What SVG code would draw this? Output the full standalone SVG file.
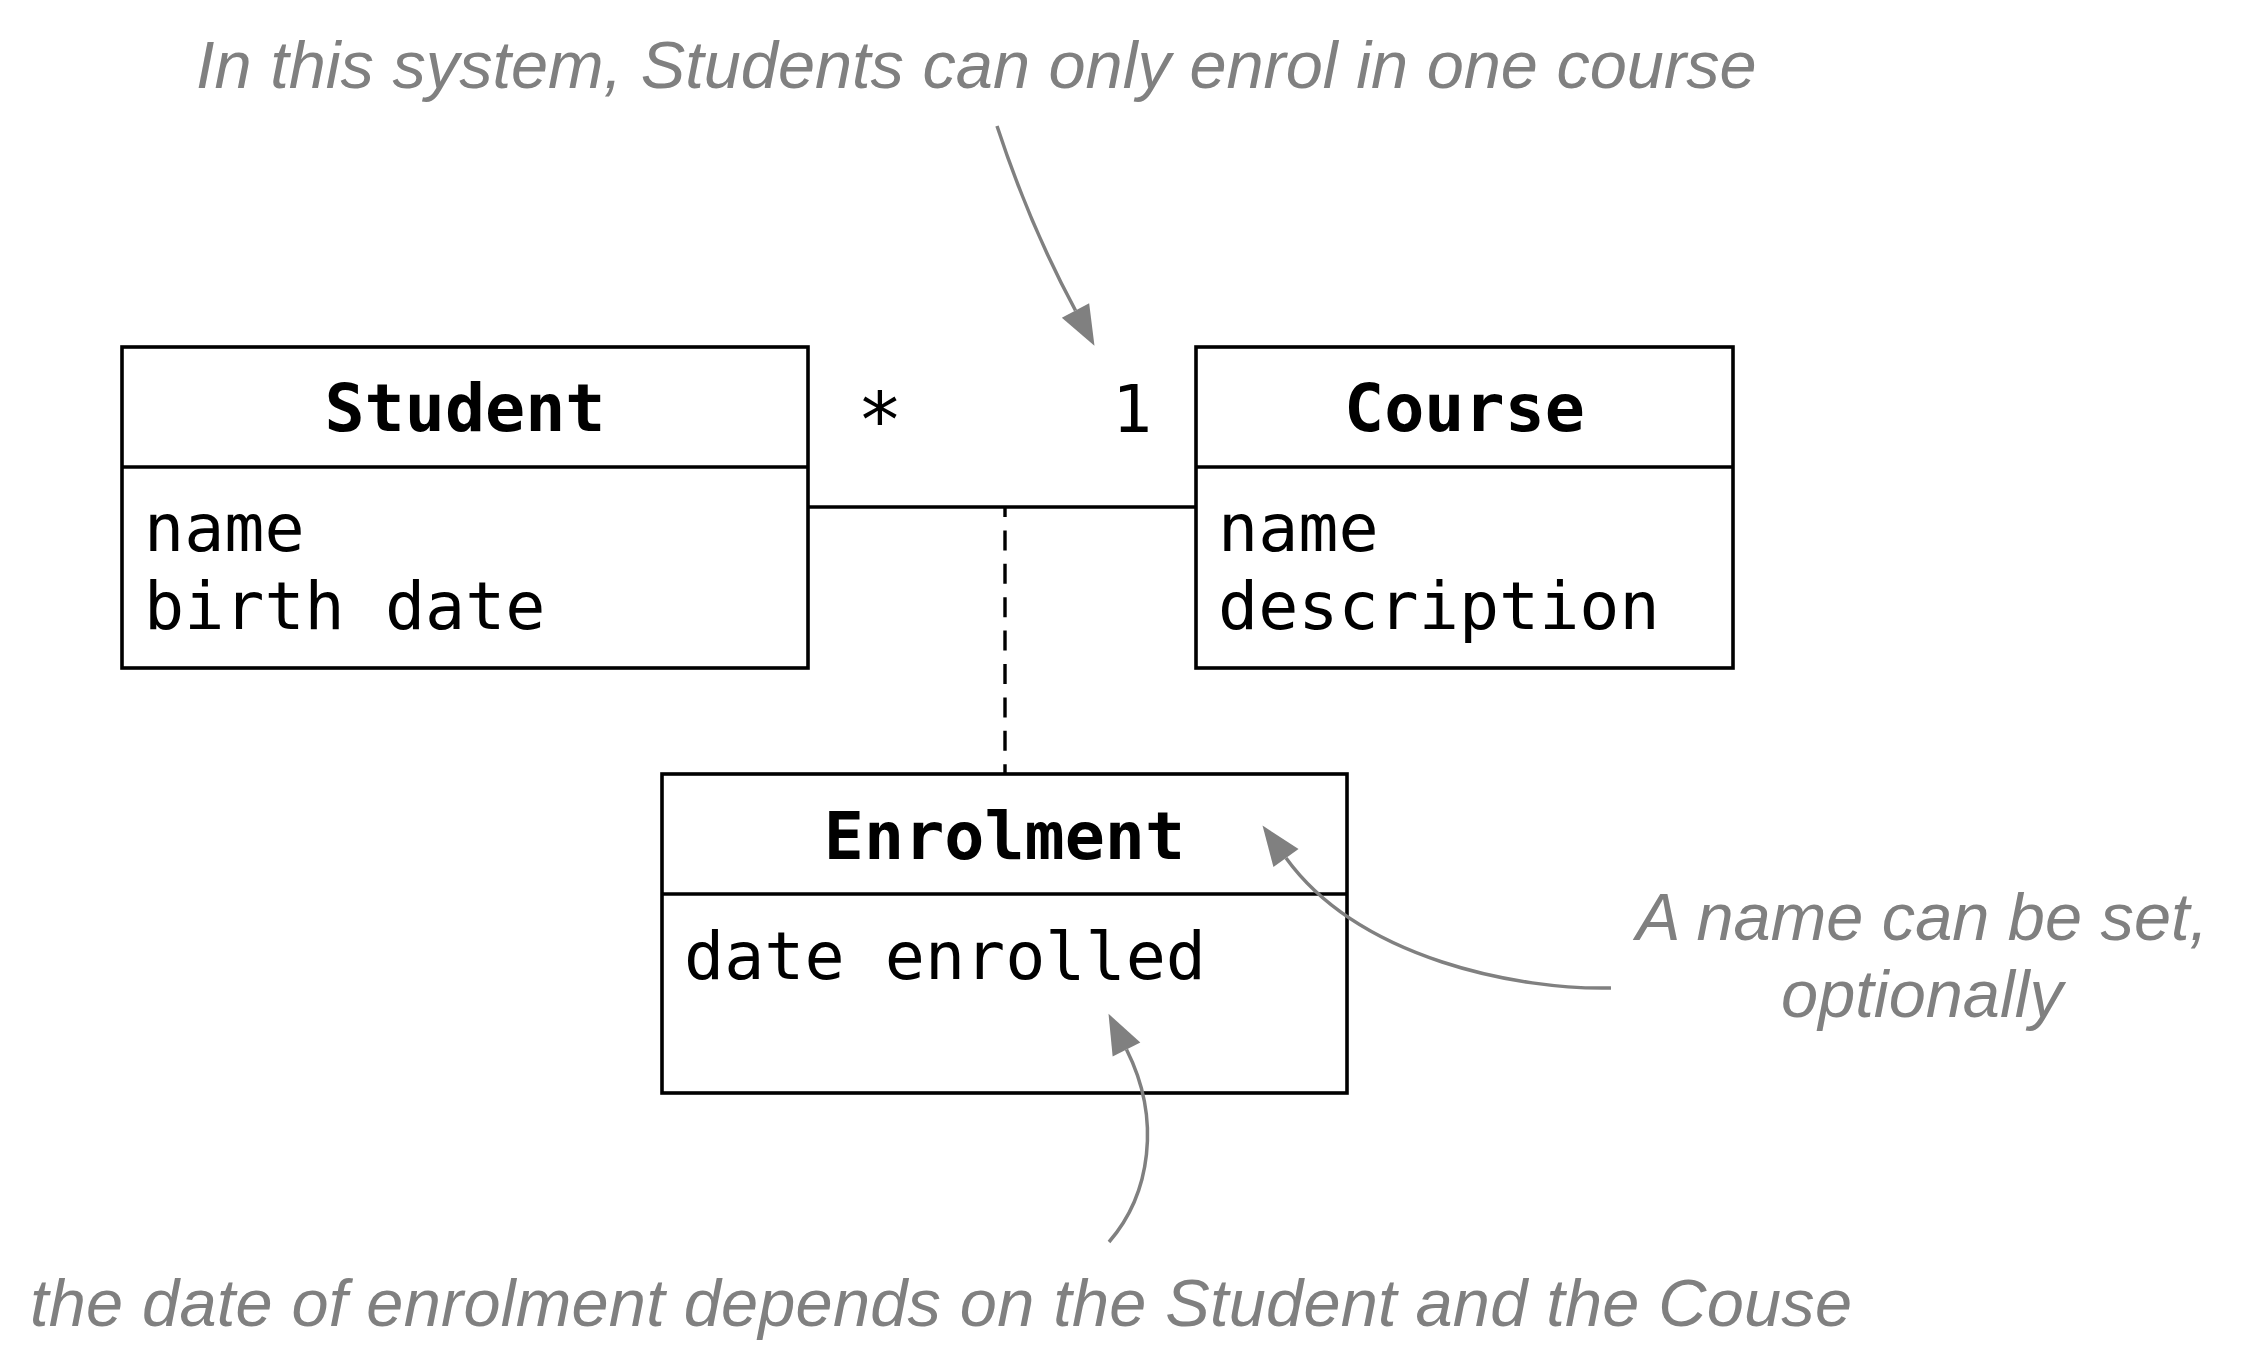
<svg xmlns="http://www.w3.org/2000/svg" width="2245" height="1370" viewBox="0 0 2245 1370">
  <style>
    .box { fill: #ffffff; stroke: #000000; stroke-width: 3.6; }
    .div { stroke: #000000; stroke-width: 3.6; }
    .title { font-family: "DejaVu Sans Mono", "Liberation Mono", monospace; font-weight: bold; font-size: 66.7px; fill: #000000; text-anchor: middle; }
    .attr { font-family: "DejaVu Sans Mono", "Liberation Mono", monospace; font-size: 66.7px; fill: #000000; }
    .mult { font-family: "DejaVu Sans Mono", "Liberation Mono", monospace; font-size: 66.7px; fill: #000000; text-anchor: middle; }
    .note { font-family: "Liberation Sans", Arial, sans-serif; font-style: italic; font-size: 66.7px; fill: #808080; }
    .assoc { stroke: #000000; stroke-width: 3.6; fill: none; }
    .dash { stroke: #000000; stroke-width: 3.4; fill: none; stroke-dasharray: 20 13.4; stroke-dashoffset: 10; }
    .pointer { stroke: #808080; stroke-width: 3.5; fill: none; marker-end: url(#head); }
  </style>
  <defs>
    <marker id="head" markerUnits="userSpaceOnUse" markerWidth="42" markerHeight="32" refX="0" refY="15.5" orient="auto" overflow="visible">
      <path d="M0,0 L40,15.5 L0,31 z" fill="#808080"/>
    </marker>
  </defs>
  <rect width="2245" height="1370" fill="#ffffff"/>

  <g id="student">
    <rect class="box" x="122" y="347" width="686" height="321"/>
    <line class="div" x1="122" y1="467" x2="808" y2="467"/>
    <text class="title" x="465" y="431">Student</text>
    <text class="attr" x="144" y="551">name</text>
    <text class="attr" x="144" y="629">birth date</text>
  </g>

  <g id="course">
    <rect class="box" x="1196" y="347" width="537" height="321"/>
    <line class="div" x1="1196" y1="467" x2="1733" y2="467"/>
    <text class="title" x="1464.5" y="431">Course</text>
    <text class="attr" x="1218" y="551">name</text>
    <text class="attr" x="1218" y="629">description</text>
  </g>

  <g id="enrolment">
    <rect class="box" x="662" y="774" width="685" height="319"/>
    <line class="div" x1="662" y1="894" x2="1347" y2="894"/>
    <text class="title" x="1004.5" y="859">Enrolment</text>
    <text class="attr" x="684" y="979">date enrolled</text>
  </g>

  <g id="connectors">
    <line class="assoc" x1="808" y1="507" x2="1196" y2="507"/>
    <line class="dash" x1="1005" y1="507" x2="1005" y2="774"/>
    <path class="pointer" d="M997,126 Q1029.5,225 1075.5,310.5"/>
    <path class="pointer" d="M1611,988 C1520,990 1360,960 1286,858"/>
    <path class="pointer" d="M1109,1242 C1150,1195 1162,1120 1126.5,1049.5"/>
  </g>

  <g id="multiplicities">
    <text class="mult" x="880" y="447" style="font-size:76px">*</text>
    <text class="mult" x="1132" y="432">1</text>
  </g>

  <g id="note-top">
    <text class="note" x="196" y="88">In this system, Students can only enrol in one course</text>
  </g>
  <g id="note-right">
    <text class="note" text-anchor="middle" x="1922" y="940">A name can be set,</text>
    <text class="note" text-anchor="middle" x="1922" y="1017">optionally</text>
  </g>
  <g id="note-bottom">
    <text class="note" x="30" y="1326" textLength="1822" lengthAdjust="spacing">the date of enrolment depends on the Student and the Couse</text>
  </g>
</svg>
